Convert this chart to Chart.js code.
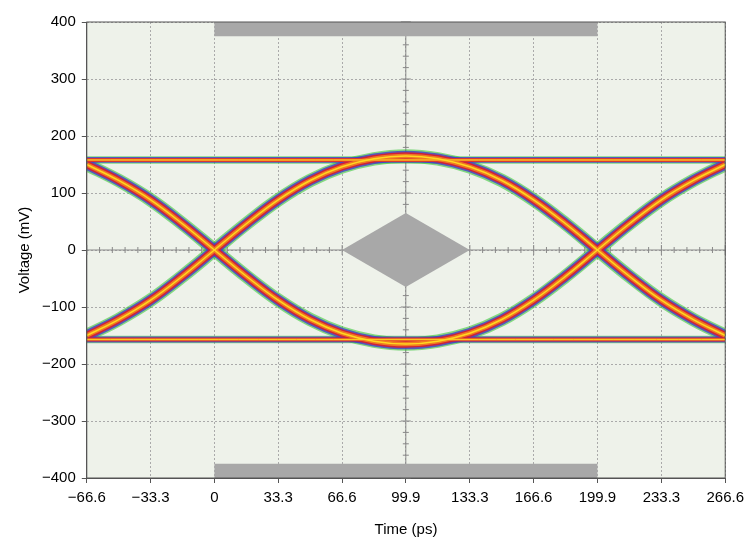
<!DOCTYPE html>
<html><head><meta charset="utf-8">
<script src="https://cdn.jsdelivr.net/npm/chart.js@4/dist/chart.umd.min.js"></script>
<style>body{margin:0;background:#fff}#wrap{width:750px;height:549px}</style>
</head><body><div id="wrap"><canvas id="eye"></canvas></div>
<script>
// tick positions
const xTicks = [-66.6, -33.3, 0, 33.3, 66.6, 99.9, 133.3, 166.6, 199.9, 233.3, 266.6];
const yTicks = [-400, -300, -200, -100, 0, 100, 200, 300, 400];

// eye traces (ps, mV)
const arcX = [-66.6, -50, -33.3, -16.7, 0, 16.7, 33.3, 50, 66.6, 83.3, 99.9, 116.6, 133.3, 150, 166.6, 183.3, 199.9, 216.6, 233.3, 250, 266.6];
const upperArc = [-150, -122, -88, -46, 0, 46, 88, 122, 146, 160, 165, 160, 146, 122, 88, 46, 0, -46, -88, -122, -150];
const lowerArc = [150, 122, 88, 46, 0, -46, -88, -122, -146, -160, -165, -160, -146, -122, -88, -46, 0, 46, 88, 122, 150];
const flatX = [-66.6, 266.6];
const highLevel = [158, 158];
const lowLevel = [-157, -157];

// mask shapes
const diamondX = [66.6, 99.9, 133.3, 99.9, 66.6];
const diamondY = [0, 65, 0, -65, 0];
const maskX = [0, 199.9, 199.9, 0, 0];
const topMaskY = [375, 375, 400, 400, 375];
const botMaskY = [-400, -400, -375, -375, -400];

const pts = (xs, ys) => xs.map((x, i) => ({x: x, y: ys[i]}));
const minus = v => String(v).replace('-', '\u2212');

// first dataset is drawn on top, so the thin yellow core comes first
const layers = [
  ['#ffd820', 1.5],
  ['#f07a20', 4.5],
  ['#d0203a', 7.5],
  ['rgba(70,60,200,0.8)', 10.5],
  ['rgba(60,200,60,0.6)', 13.5]
];

const datasets = [];
layers.forEach(([c, w]) => {
  [[arcX, upperArc], [arcX, lowerArc], [flatX, highLevel], [flatX, lowLevel]].forEach(([xs, ys]) => {
    datasets.push({data: pts(xs, ys), showLine: true, borderColor: c, borderWidth: xs.length > 2 ? w : w * 0.55,
      pointRadius: 0, tension: 0.4, fill: false});
  });
});
datasets.push(
  {data: pts(maskX, topMaskY), showLine: true, fill: 'shape', backgroundColor: '#a8a8a8', borderWidth: 0, pointRadius: 0},
  {data: pts(maskX, botMaskY), showLine: true, fill: 'shape', backgroundColor: '#a8a8a8', borderWidth: 0, pointRadius: 0},
  {data: pts(diamondX, diamondY), showLine: true, fill: 'shape', backgroundColor: '#a8a8a8', borderWidth: 0, pointRadius: 0}
);

// plot background + center crosshair with small ticks
const decor = {
  id: 'decor',
  beforeDraw(chart) {
    const {ctx, chartArea: a} = chart;
    ctx.save();
    ctx.fillStyle = '#eef2ea';
    ctx.fillRect(a.left, a.top, a.right - a.left, a.bottom - a.top);
    ctx.restore();
  },
  beforeDatasetsDraw(chart) {
    const {ctx, scales: {x, y}} = chart;
    const y0 = y.getPixelForValue(0), xc = x.getPixelForValue(99.9);
    ctx.save();
    ctx.strokeStyle = '#888';
    ctx.lineWidth = 1;
    ctx.beginPath();
    ctx.moveTo(x.left, y0); ctx.lineTo(x.right, y0);
    ctx.moveTo(xc, y.top); ctx.lineTo(xc, y.bottom);
    for (let i = 0; i <= 50; i++) {
      const px = x.getPixelForValue(-66.6 + i * 6.664);
      const h = i % 5 === 0 ? 5 : 3;
      ctx.moveTo(px, y0 - h); ctx.lineTo(px, y0 + h);
    }
    for (let v = -400; v <= 400; v += 20) {
      const py = y.getPixelForValue(v);
      const h = v % 100 === 0 ? 5 : 3;
      ctx.moveTo(xc - h, py); ctx.lineTo(xc + h, py);
    }
    ctx.stroke();
    ctx.restore();
  },
  afterDraw(chart) {
    const {ctx, chartArea: a} = chart;
    ctx.save();
    ctx.strokeStyle = '#555';
    ctx.lineWidth = 1;
    ctx.strokeRect(a.left, a.top, a.right - a.left, a.bottom - a.top);
    ctx.restore();
  }
};

const font = {family: 'Liberation Sans, Arial, sans-serif', size: 15};
new Chart(document.getElementById('eye'), {
  type: 'scatter',
  data: {datasets: datasets},
  options: {
    responsive: true, maintainAspectRatio: false, animation: false,
    layout: {padding: {top: 22, right: 9, bottom: 6, left: 12}},
    plugins: {legend: {display: false}, tooltip: {enabled: false}},
    scales: {
      x: {
        type: 'linear', min: -66.6, max: 266.6,
        afterBuildTicks: s => { s.ticks = xTicks.map(v => ({value: v})); },
        ticks: {color: '#000', font: font, callback: v => minus(v), autoSkip: false, maxRotation: 0, padding: 6},
        grid: {color: '#aaa', drawTicks: true, tickLength: 5, tickColor: '#555'},
        border: {dash: [2, 2], color: '#555'},
        title: {display: true, text: 'Time (ps)', color: '#000', font: font, padding: {top: 8}}
      },
      y: {
        type: 'linear', min: -400, max: 400,
        afterBuildTicks: s => { s.ticks = yTicks.map(v => ({value: v})); },
        ticks: {color: '#000', font: font, callback: v => minus(v), padding: 6},
        grid: {color: '#aaa', tickLength: 5, tickColor: '#555'},
        border: {dash: [2, 2], color: '#555'},
        title: {display: true, text: 'Voltage (mV)', color: '#000', font: font, padding: {bottom: 2}}
      }
    }
  },
  plugins: [decor]
});
</script></body></html>
